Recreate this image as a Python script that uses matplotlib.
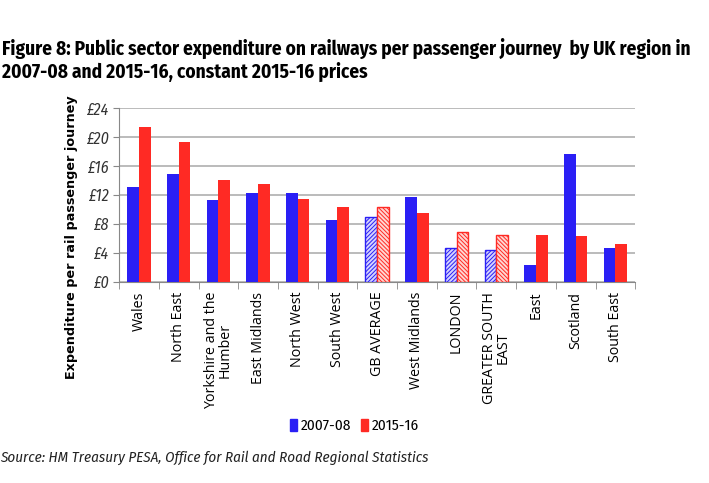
import numpy as np
import matplotlib.pyplot as plt
from matplotlib.patches import Patch

regions = ["Wales", "North East", "Yorkshire and the\nHumber", "East Midlands",
           "North West", "South West", "GB AVERAGE", "West Midlands", "LONDON",
           "GREATER SOUTH\nEAST", "East", "Scotland", "South East"]
spend_0708 = [13.1, 14.9, 11.3, 12.3, 12.3, 8.5, 9.0, 11.8, 4.7, 4.4, 2.3, 17.7, 4.7]
spend_1516 = [21.4, 19.3, 14.1, 13.5, 11.5, 10.3, 10.3, 9.5, 6.9, 6.5, 6.5, 6.3, 5.2]
hatched = ["GB AVERAGE", "LONDON", "GREATER SOUTH\nEAST"]
yticks = [0, 4, 8, 12, 16, 20, 24]

blue = "#2a1ff5"
red = "#ff2a24"
cond = ["Fira Sans Condensed", "DejaVu Sans"]

plt.rcParams["font.family"] = ["Open Sans", "DejaVu Sans"]
plt.rcParams["hatch.linewidth"] = 0.7

fig = plt.figure(figsize=(7.09, 4.83), dpi=100)
ax = fig.add_axes([0.168, 0.416, 0.728, 0.36])

x = np.arange(len(regions))
w = 0.295
for i, r in enumerate(regions):
    if r in hatched:
        ax.bar(x[i] - w / 2, spend_0708[i], w, color="#d4d2ff", edgecolor=blue,
               hatch="////////", linewidth=1.0, zorder=3)
        ax.bar(x[i] + w / 2, spend_1516[i], w, color="#ffd6d2", edgecolor=red,
               hatch="\\\\\\\\\\\\\\\\", linewidth=1.0, zorder=3)
    else:
        ax.bar(x[i] - w / 2, spend_0708[i], w, color=blue, zorder=3)
        ax.bar(x[i] + w / 2, spend_1516[i], w, color=red, zorder=3)

ax.set_xlim(-0.5, len(regions) - 0.5)
ax.set_ylim(0, 24)
ax.set_yticks(yticks)
ax.set_yticklabels([f"£{v}" for v in yticks], fontsize=11.5, style="italic",
                   color="#333333", family=cond)
ax.yaxis.grid(True, color="#a8a8a8", linewidth=1.1, zorder=0)
ax.set_axisbelow(True)

ax.set_xticks(x)
ax.set_xticklabels(regions, rotation=90, fontsize=10.3, va="top", ha="center",
                   linespacing=0.85)
ax.set_xticks(np.arange(-0.5, len(regions)), minor=True)
ax.tick_params(axis="x", which="major", length=0, pad=7)
ax.tick_params(axis="x", which="minor", length=5, color="#888888")
ax.tick_params(axis="y", length=4, color="#888888", pad=3)

for s in ["top", "right"]:
    ax.spines[s].set_visible(False)
ax.spines["left"].set_color("#888888")
ax.spines["bottom"].set_color("#888888")

fig.text(0.003, 0.876, "Figure 8: Public sector expenditure on railways per passenger journey  by UK region in\n"
         "2007-08 and 2015-16, constant 2015-16 prices",
         fontsize=13.9, fontweight="bold", ha="left", va="center", linespacing=1.2,
         family=cond)
fig.text(0.101, 0.509, "Expenditure per rail passenger journey", rotation=90,
         fontsize=9.2, fontweight="bold", ha="center", va="center",
         family=["DejaVu Sans"])

handles = [Patch(color=blue, label="2007-08"), Patch(color=red, label="2015-16")]
fig.legend(handles=handles, loc="center", bbox_to_anchor=(0.5, 0.118), ncol=2,
           frameon=False, prop={"family": cond, "size": 11}, handlelength=0.45,
           handleheight=0.8, handletextpad=0.3, columnspacing=0.6)

fig.text(0.0, 0.052, "Source: HM Treasury PESA, Office for Rail and Road Regional Statistics",
         fontsize=10.8, style="italic", ha="left", va="center", color="#222222",
         family=cond)

fig.savefig("out.png", dpi=100)
